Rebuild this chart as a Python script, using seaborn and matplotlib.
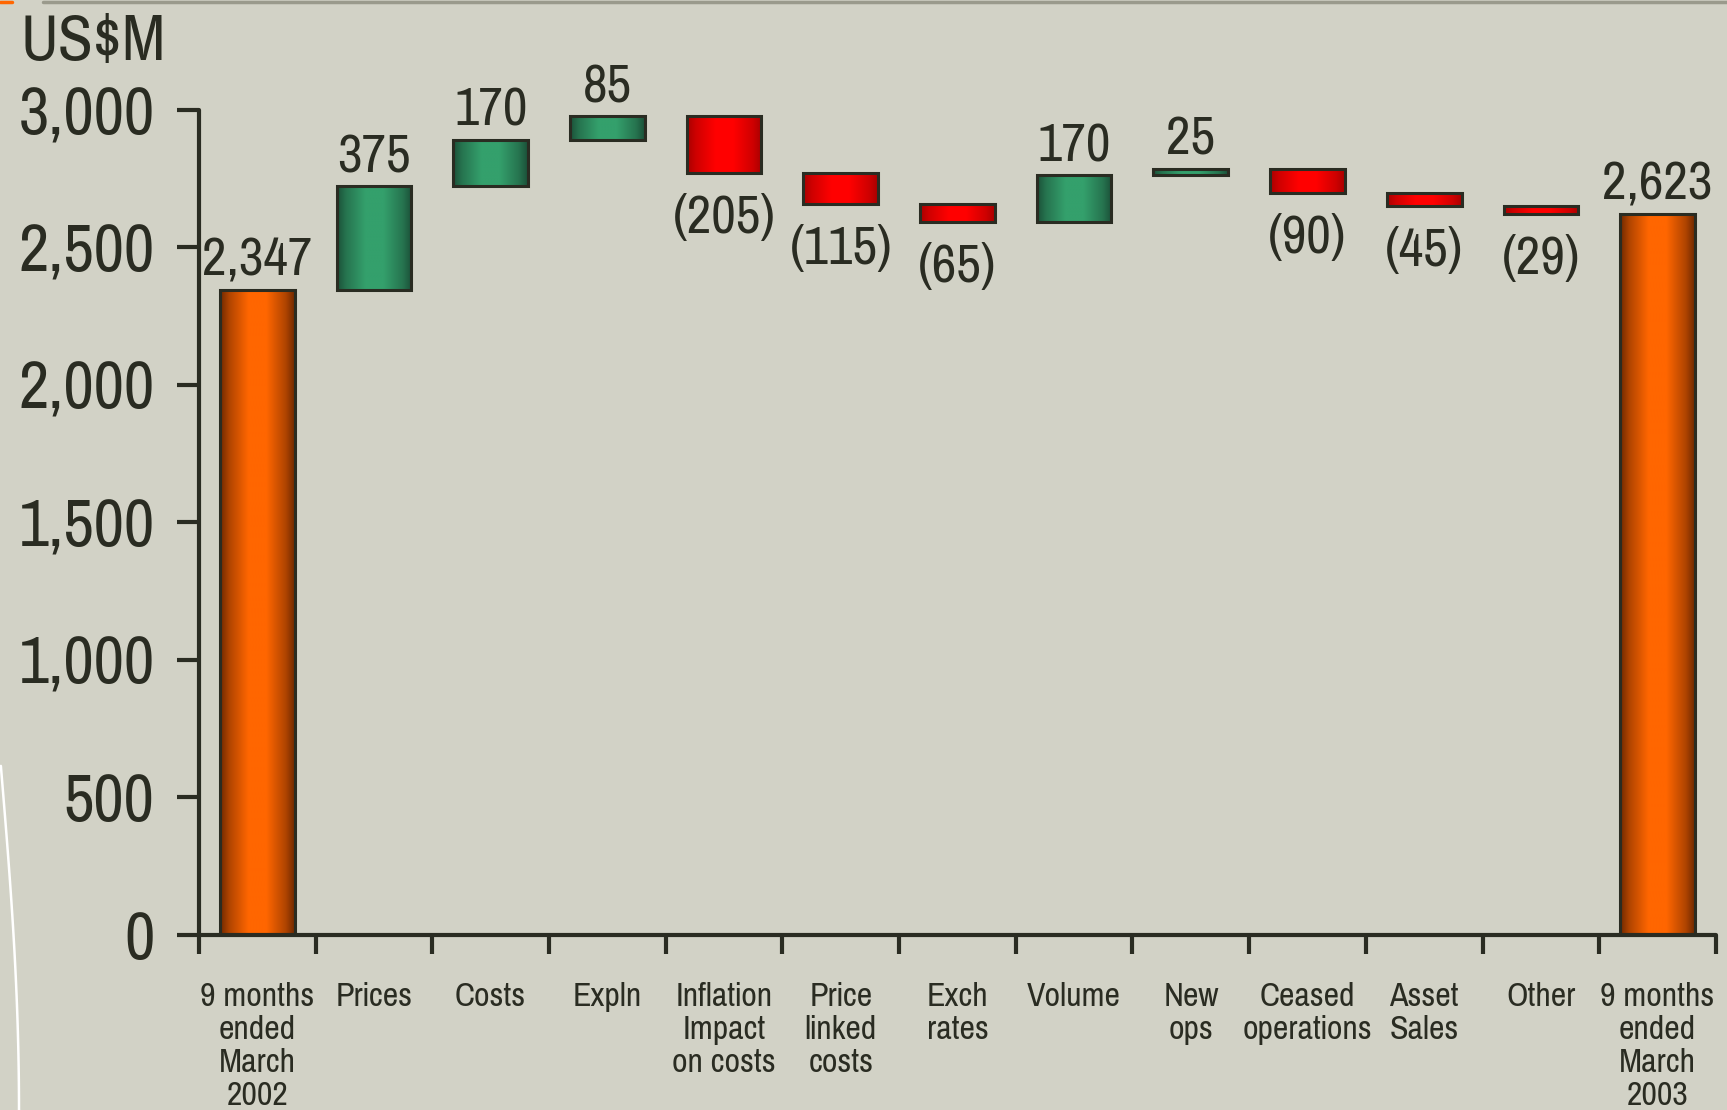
import numpy as np
import pandas as pd
import matplotlib
matplotlib.use("Agg")
import matplotlib.pyplot as plt
import seaborn as sns
from matplotlib.colors import to_rgb
from matplotlib.lines import Line2D

# Данные водопада (US$M)
categories = ["9 months\nended\nMarch\n2002", "Prices", "Costs", "Expln",
              "Inflation\nImpact\non costs", "Price\nlinked\ncosts", "Exch\nrates",
              "Volume", "New\nops", "Ceased\noperations", "Asset\nSales", "Other",
              "9 months\nended\nMarch\n2003"]
start_total = 2347
changes = [375, 170, 85, -205, -115, -65, 170, 25, -90, -45, -29]
end_total = 2623
y_ticks = [0, 500, 1000, 1500, 2000, 2500, 3000]

# Подготовка нижних границ и высот столбцов
running = start_total + np.cumsum(changes)
prev = np.concatenate([[start_total], running[:-1]])
bottoms = [0] + list(np.minimum(prev, running)) + [0]
heights = [start_total] + [abs(c) for c in changes] + [end_total]
kinds = ["total"] + ["up" if c > 0 else "down" for c in changes] + ["total"]
labels = [f"{start_total:,}"] + [f"{c}" if c > 0 else f"({-c})" for c in changes] + [f"{end_total:,}"]
df = pd.DataFrame({"category": categories, "height": heights})

BG = "#d2d2c6"
INK = "#2a2c22"
grad = {"total": ("#6e2800", "#ff6600"),
        "up": ("#1b5038", "#34a06c"),
        "down": ("#a80000", "#ff0000")}

sns.set_theme(style="white")
plt.rcParams["font.family"] = ["Liberation Sans Narrow", "Pragati Narrow", "Roboto Condensed",
                               "Archivo Narrow", "IBM Plex Sans Condensed", "DejaVu Sans"]

fig = plt.figure(figsize=(17.27, 11.10), dpi=100, facecolor=BG)
ax = fig.add_axes([0.1152, 0.1577, 0.9936 - 0.1152, 0.9009 - 0.1577])
ax.set_facecolor(BG)

sns.barplot(data=df, x="category", y="height", order=categories, ax=ax,
            width=0.64, bottom=np.array(bottoms, dtype=float), color="white",
            edgecolor=INK, linewidth=2.2)

# Градиентная заливка столбцов
prof_x = np.linspace(0, 1, 200)
prof = np.interp(prof_x, [0, 0.12, 0.38, 0.62, 0.88, 1], [0, 0.45, 1, 1, 0.45, 0])
for patch, kind in zip(ax.patches, kinds):
    dark, light = np.array(to_rgb(grad[kind][0])), np.array(to_rgb(grad[kind][1]))
    img = dark[None, None, :] + (light - dark)[None, None, :] * prof[None, :, None]
    x0, y0 = patch.get_x(), patch.get_y()
    w, h = patch.get_width(), patch.get_height()
    im = ax.imshow(img, extent=(x0, x0 + w, y0, y0 + h), aspect="auto",
                   origin="lower", zorder=2, interpolation="bilinear")
    im.set_clip_path(patch)
    patch.set_facecolor("none")
    patch.set_zorder(3)

ax.set_xlim(-0.5, len(categories) - 0.5)
ax.set_ylim(0, 3000)

# Подписи значений
for i, (b, h, kind, lab) in enumerate(zip(bottoms, heights, kinds, labels)):
    if kind == "down":
        ax.annotate(lab, (i, b), xytext=(0, -15), textcoords="offset points",
                    ha="center", va="top", fontsize=42, color=INK, annotation_clip=False)
    else:
        ax.annotate(lab, (i, b + h), xytext=(0, 10), textcoords="offset points",
                    ha="center", va="baseline", fontsize=42, color=INK, annotation_clip=False)

# Оси
for s in ["top", "right"]:
    ax.spines[s].set_visible(False)
for s in ["left", "bottom"]:
    ax.spines[s].set_color(INK)
    ax.spines[s].set_linewidth(3)
    ax.spines[s].set_capstyle("round")

ax.set_yticks(y_ticks)
ax.set_yticklabels([f"{v:,}" for v in y_ticks])
ax.tick_params(axis="y", left=True, length=16, width=3, color=INK, pad=16,
               labelsize=52, labelcolor=INK)

ax.set_xticks(np.arange(len(categories) + 1) - 0.5)
ax.set_xticklabels([])
ax.tick_params(axis="x", which="major", bottom=True, length=14, width=3, color=INK,
               direction="out")
ax.set_xticks(np.arange(len(categories)), minor=True)
ax.set_xticklabels(categories, minor=True, fontsize=26.5, color=INK, linespacing=1.12, va="top")
ax.tick_params(axis="x", which="minor", bottom=True, length=0, pad=34)
ax.set_xlabel("")
ax.set_ylabel("")

fig.text(0.012, 0.946, "US$M", fontsize=50, color=INK, ha="left", va="baseline")

# Декоративные элементы слайда
fig.add_artist(Line2D([0.025, 1.0], [0.9985, 0.9985], color="#9a9a8c", lw=2.5))
fig.add_artist(Line2D([0.0, 0.007], [0.9985, 0.9985], color="#ff6600", lw=2.5))
t = np.linspace(0, 1, 50)
fig.add_artist(Line2D(0.0005 + 0.0105 * np.sin(t * np.pi / 2), 0.31 - 0.31 * t,
                      color="white", lw=1.8))

fig.savefig("out.png", dpi=100, facecolor=BG)
